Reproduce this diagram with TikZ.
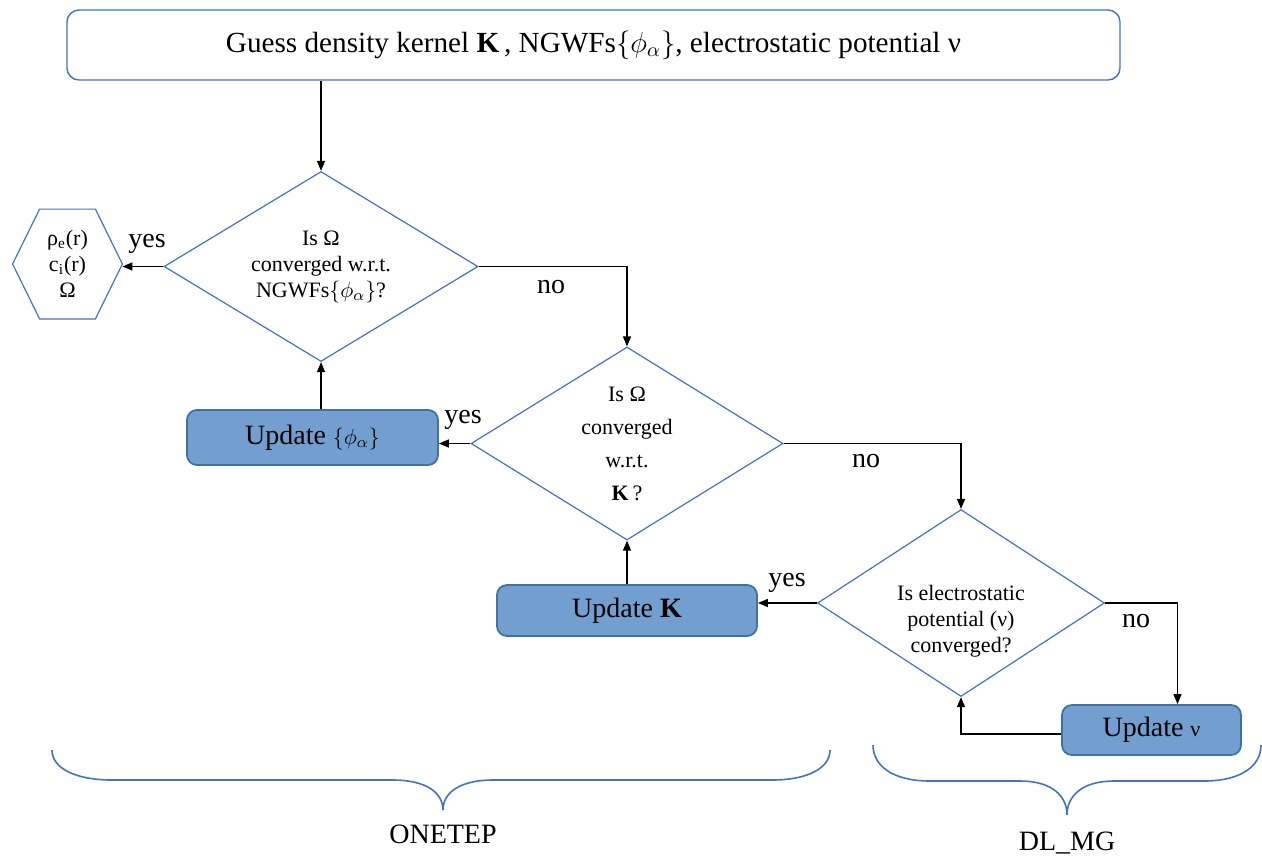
\documentclass[tikz,border=0pt]{standalone}
\usepackage{fontspec}
\setmainfont{Liberation Serif}
\usetikzlibrary{shapes.geometric,arrows.meta,calc}
\definecolor{dblue}{RGB}{68,114,196}
\definecolor{fillblue}{RGB}{114,159,207}
\definecolor{edgeblue}{RGB}{65,113,156}
\begin{document}
\begin{tikzpicture}[x=0.5pt,y=-0.5pt,
  big/.style={font=\fontsize{14}{16}\selectfont},
  small/.style={font=\fontsize{11}{13}\selectfont},
  decision/.style={diamond,draw=dblue,line width=0.6pt,inner sep=0pt,align=center,small},
  topbox/.style={rectangle,rounded corners=6pt,draw=dblue,line width=0.7pt,inner sep=0pt,font=\fontsize{14.6}{16}\selectfont},
  updbox/.style={rectangle,rounded corners=5pt,fill=fillblue,draw=edgeblue,line width=0.9pt,inner sep=0pt,big},
  arr/.style={-{Triangle[length=5pt,width=4pt]},line width=0.7pt,black},
  lbl/.style={inner sep=0pt,big},
  bracecurve/.style={draw=dblue,line width=0.8pt}]
\useasboundingbox[fill=white] (0,0) rectangle (1262,858);

% top box
\node[topbox,minimum width=526.5pt,minimum height=35pt] (top) at (593.5,45)
  {Guess density kernel \textbf{K}\,, NGWFs$\{\phi_\alpha\}$, electrostatic potential ν};

% decisions
\node[decision,aspect=1.65,minimum width=157pt,minimum height=95pt] (d1) at (321,266.5)
  {Is Ω\\converged w.r.t.\\NGWFs$\{\phi_\alpha\}$?};
\node[decision,aspect=1.62,minimum width=156pt,minimum height=96.5pt,font=\fontsize{11}{16.5}\selectfont] (d2) at (627,443.5)
  {Is Ω\\converged\\w.r.t.\\ \textbf{K}\,?};
\node[decision,aspect=1.53,minimum width=143.5pt,minimum height=93.5pt] (d3) at (961,603) {};
\node[small,align=center,inner sep=0pt] (d3t) at (961,621)
  {Is electrostatic\\potential (ν)\\converged?};

% result hexagon
\node[small,align=center,inner sep=0pt,minimum width=54.5pt,minimum height=54.5pt] (hex) at (67.5,264)
  {ρ\textsubscript{e}(r)\\c\textsubscript{i}(r)\\Ω};
\draw[draw=dblue,line width=0.6pt] (hex.west) -- ($(hex.north west)+(27,0)$) -- ($(hex.north east)+(-27,0)$)
  -- (hex.east) -- ($(hex.south east)+(-27,0)$) -- ($(hex.south west)+(27,0)$) -- cycle;

% update boxes
\node[updbox,minimum width=125.5pt,minimum height=27.5pt] (uphi) at (312.5,437.5)
  {Update {\fontsize{11}{13}\selectfont$\{\phi_\alpha\}$}};
\node[updbox,minimum width=130pt,minimum height=25.5pt] (uk) at (627,610.5)
  {Update \textbf{K}};
\node[updbox,minimum width=89.5pt,minimum height=25pt] (unu) at (1151.5,730)
  {Update {\fontsize{11}{13}\selectfont ν}};

% connectors
\draw[arr] (top.south -| d1.north) -- (d1.north);
\draw[arr] (d1.west) -- (hex.east |- d1.west);
\draw[arr] (d1.east) -| (d2.north);
\draw[arr] (d2.west) -- (uphi.east |- d2.west);
\draw[arr] (uphi.north -| d1.south) -- (d1.south);
\draw[arr] (d2.east) -| (d3.north);
\draw[arr] (d3.west) -- (uk.east |- d3.west);
\draw[arr] (uk.north -| d2.south) -- (d2.south);
\draw[arr] (d3.east) -| ([xshift=13pt]unu.north);
\draw[arr] ([yshift=-2pt]unu.west) -| (d3.south);

% labels
\node[lbl] (y1) at (147,244) {yes};
\node[lbl] (y2) at (463,420) {yes};
\node[lbl] (y3) at (787,583) {yes};
\node[lbl] (n1) at (551,287) {no};
\node[lbl] (n2) at (866,461) {no};
\node[lbl] (n3) at (1136,621) {no};

% braces
\draw[bracecurve] (52,750) .. controls (52,768) and (75,780) .. (112,780) -- (393,780)
  .. controls (425,780) and (443,792) .. (443,810)
  .. controls (443,792) and (461,780) .. (493,780) -- (772,780)
  .. controls (808,780) and (830,768) .. (830,750);
\draw[bracecurve] (873,745) .. controls (873,766) and (893,781) .. (930,781) -- (1020,781)
  .. controls (1052,781) and (1067,796) .. (1067,815)
  .. controls (1067,796) and (1082,781) .. (1114,781) -- (1204,781)
  .. controls (1241,781) and (1261,766) .. (1261,745);
\node[lbl] (onetep) at (443,834) {ONETEP};
\node[lbl] (dlmg) at (1067,843) {DL\_MG};
\end{tikzpicture}
\end{document}
